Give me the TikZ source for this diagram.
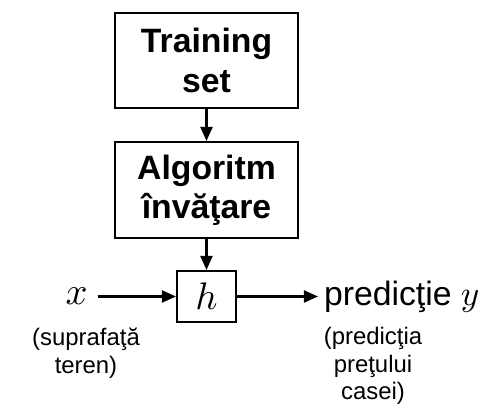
\documentclass[tikz,border=0pt]{standalone}
\usepackage{fontspec}
\setmainfont{Liberation Sans}
\usetikzlibrary{arrows.meta,positioning}
\tikzset{blk/.style={draw,minimum width=1.83cm,align=center,inner sep=0pt,font=\fontsize{9.6}{11.2}\selectfont\bfseries},
  hyp/.style={draw,minimum width=0.59cm,minimum height=0.51cm,inner sep=0pt,font=\fontsize{10.5}{10.5}\selectfont},
  lbl/.style={align=center,inner sep=0pt,font=\fontsize{6.8}{7.9}\selectfont}}

\begin{document}
\begin{tikzpicture}[>={Triangle[length=0.14cm,width=0.12cm]},line width=0.6pt]
    \useasboundingbox (0,0) rectangle (4.81,4.10);
    \node[blk,minimum height=0.95cm] (ts) at (2.065,3.495) {Training\\set};
    \node[blk,minimum height=0.96cm] (alg) at (2.065,2.20) {Algoritm\\învăţare};
    \node[hyp] (h) at (2.065,1.135) {$h$};
    \node[inner ysep=0pt,inner xsep=0.09cm,font=\fontsize{10.5}{10.5}\selectfont] (xin) at (0.765,1.135) {$x$};
    \node[anchor=west,inner ysep=0pt,inner xsep=0.05cm,font=\fontsize{9.6}{9.6}\selectfont] (yout) at (3.18,1.135) {predicţie $y$};
    \node[lbl,anchor=north] (xcap) at (0.86,0.83) {(suprafaţă\\teren)};
    \node[lbl,anchor=north] (ycap) at (3.73,0.84) {(predicţia\\preţului\\casei)};

    \draw [->] (ts) to (alg);
    \draw [->] (alg) to (h);
    \draw [->] (xin) to (h);
    \draw [->] (h) to (yout);
\end{tikzpicture}
\end{document}
